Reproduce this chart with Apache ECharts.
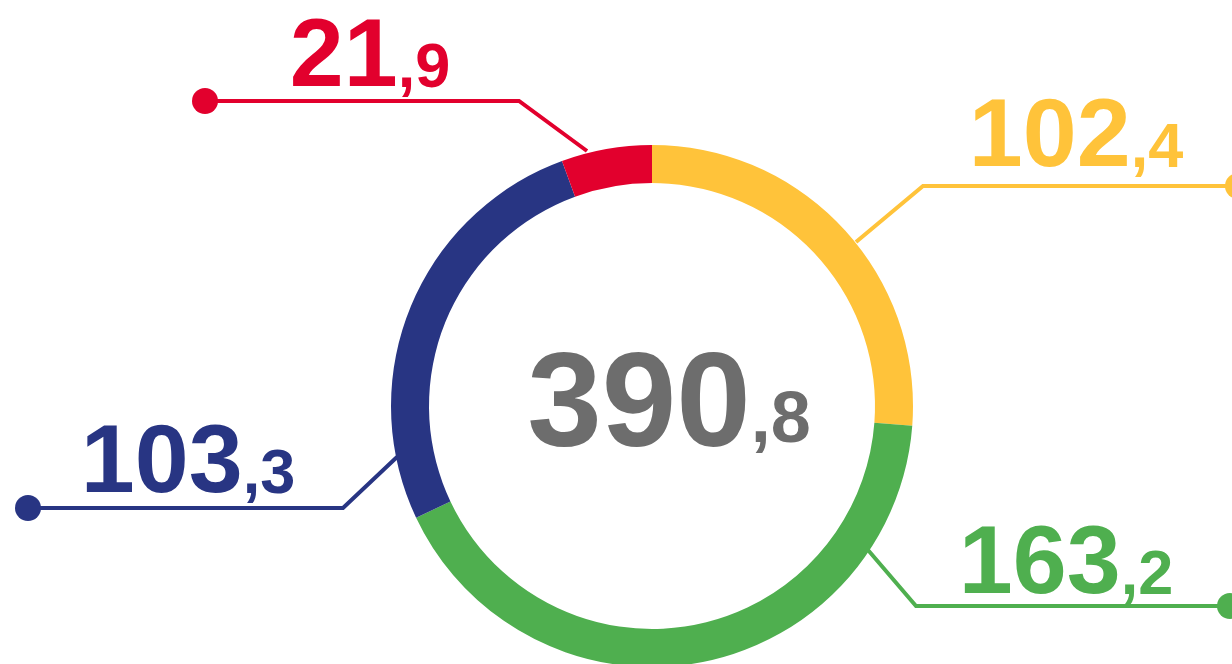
<!DOCTYPE html>
<html>
<head>
<meta charset="utf-8">
<script src="https://cdn.jsdelivr.net/npm/echarts@6/dist/echarts.min.js"></script>
<style>
    html, body { margin: 0; padding: 0; background: #fff; }
    #chart { width: 1232px; height: 664px; }
</style>
</head>
<body>
<div id="chart"></div>
<script>
var names = ['Segmento 1', 'Segmento 2', 'Segmento 3', 'Segmento 4'];
var values = [102.4, 163.2, 103.3, 21.9];
var colors = ['#FFC33A', '#4FAF4F', '#283583', '#E2002D'];

// callout geometry: point on ring, elbow, dot end, text anchor (bottom centre)
var callouts = [
    { start: [856, 242], elbow: [923, 186], end: [1238, 186], text: [1076, 188] },
    { start: [868, 550], elbow: [916, 606], end: [1230, 606], text: [1066, 615] },
    { start: [397, 457], elbow: [343, 508], end: [28, 508], text: [188, 514] },
    { start: [587, 151], elbow: [519, 101], end: [205, 101], text: [370, 108] }
];

var font = '"Liberation Sans", Arial, sans-serif';

function splitNum(v, big, small) {
    var s = v.toFixed(1).split('.');
    return '{' + big + '|' + s[0] + '}{' + small + '|,' + s[1] + '}';
}

var total = 0;
values.forEach(function (v) { total += v; });
total = Math.round(total * 10) / 10;

var chart = echarts.init(document.getElementById('chart'));
var option = {
    animation: false,
    series: [{
        type: 'pie',
        center: [652, 406],
        radius: [223, 261],
        startAngle: 90,
        clockwise: true,
        avoidLabelOverlap: false,
        silent: true,
        label: {
            show: true,
            position: 'outside',
            fontFamily: font,
            formatter: function (p) {
                return splitNum(p.value, 'big', 'small');
            },
            rich: {
                big: { fontSize: 97, fontWeight: 'bold', fontFamily: font, lineHeight: 66, verticalAlign: 'bottom' },
                small: { fontSize: 63, fontWeight: 'bold', fontFamily: font, lineHeight: 53, verticalAlign: 'bottom', padding: [0, 0, 7, 0] }
            }
        },
        labelLine: {
            show: true,
            smooth: false,
            lineStyle: { width: 4 }
        },
        labelLayout: function (params) {
            var c = callouts[params.dataIndex];
            return {
                x: c.text[0],
                y: c.text[1],
                align: 'center',
                verticalAlign: 'bottom',
                labelLinePoints: [c.start, c.elbow, c.end]
            };
        },
        data: values.map(function (v, i) {
            return {
                name: names[i],
                value: v,
                itemStyle: { color: colors[i] },
                label: { color: colors[i] },
                labelLine: { lineStyle: { color: colors[i] } }
            };
        })
    }],
    graphic: callouts.map(function (c, i) {
        return {
            type: 'circle',
            shape: { cx: c.end[0], cy: c.end[1], r: 13 },
            style: { fill: colors[i] }
        };
    }).concat([{
        type: 'text',
        x: 669,
        y: 476,
        style: {
            text: splitNum(total, 'tb', 'ts'),
            align: 'center',
            verticalAlign: 'bottom',
            fill: '#6D6D6D',
            rich: {
                tb: { fontSize: 134, fontWeight: 'bold', fontFamily: font, lineHeight: 88, verticalAlign: 'bottom', fill: '#6D6D6D' },
                ts: { fontSize: 72, fontWeight: 'bold', fontFamily: font, lineHeight: 47, verticalAlign: 'bottom', fill: '#6D6D6D', padding: [0, 0, 18, 0] }
            }
        }
    }])
};
chart.setOption(option);
</script>
</body>
</html>
